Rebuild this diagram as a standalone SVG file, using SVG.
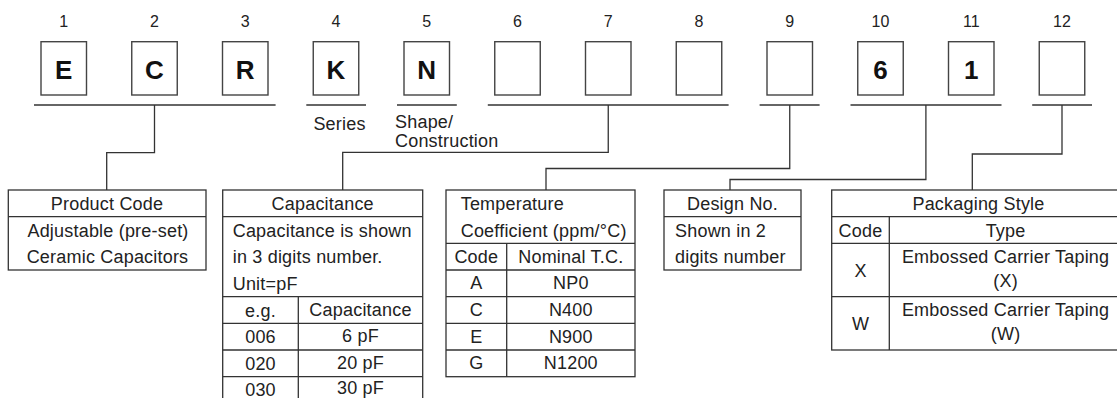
<svg xmlns="http://www.w3.org/2000/svg" width="1117" height="398" viewBox="0 0 1117 398">
<style>
text{font-family:"Liberation Sans",Arial,sans-serif;fill:#222}
.num{font-size:16px;text-anchor:middle}
.big{font-size:26px;font-weight:bold;text-anchor:middle;fill:#111}
.t{font-size:18px;letter-spacing:0.2px}
.m{text-anchor:middle}
.cb{fill:#fff;stroke:#444;stroke-width:1.4}
.bx{fill:#fff;stroke:#333;stroke-width:1.3}
.ln{stroke:#333;stroke-width:1.3;fill:none}
</style>
<rect width="1117" height="398" fill="#fff"/>

<g id="digits">
<g id="d1"><text class="num" x="63.75" y="27">1</text><rect class="cb" x="41" y="41.7" width="45.5" height="53.3"/><text class="big" x="63.75" y="79">E</text></g>
<g id="d2"><text class="num" x="154.5" y="27">2</text><rect class="cb" x="131.75" y="41.7" width="45.5" height="53.3"/><text class="big" x="154.5" y="79">C</text></g>
<g id="d3"><text class="num" x="245.25" y="27">3</text><rect class="cb" x="222.5" y="41.7" width="45.5" height="53.3"/><text class="big" x="245.25" y="79">R</text></g>
<g id="d4"><text class="num" x="336" y="27">4</text><rect class="cb" x="313.25" y="41.7" width="45.5" height="53.3"/><text class="big" x="336" y="79">K</text></g>
<g id="d5"><text class="num" x="426.75" y="27">5</text><rect class="cb" x="404" y="41.7" width="45.5" height="53.3"/><text class="big" x="426.75" y="79">N</text></g>
<g id="d6"><text class="num" x="517.5" y="27">6</text><rect class="cb" x="494.75" y="41.7" width="45.5" height="53.3"/></g>
<g id="d7"><text class="num" x="608.25" y="27">7</text><rect class="cb" x="585.5" y="41.7" width="45.5" height="53.3"/></g>
<g id="d8"><text class="num" x="699" y="27">8</text><rect class="cb" x="676.25" y="41.7" width="45.5" height="53.3"/></g>
<g id="d9"><text class="num" x="789.75" y="27">9</text><rect class="cb" x="767" y="41.7" width="45.5" height="53.3"/></g>
<g id="d10"><text class="num" x="880.5" y="27">10</text><rect class="cb" x="857.75" y="41.7" width="45.5" height="53.3"/><text class="big" x="880.5" y="79">6</text></g>
<g id="d11"><text class="num" x="971.25" y="27">11</text><rect class="cb" x="948.5" y="41.7" width="45.5" height="53.3"/><text class="big" x="971.25" y="79">1</text></g>
<g id="d12"><text class="num" x="1062" y="27">12</text><rect class="cb" x="1039.25" y="41.7" width="45.5" height="53.3"/></g>
</g>

<g id="brackets" class="ln">
<path d="M34 105H275.6"/>
<path d="M306.3 105H366"/>
<path d="M397 105H456.8"/>
<path d="M487.8 105H728.6"/>
<path d="M759.6 105H819.6"/>
<path d="M850.5 105H1001.5"/>
<path d="M1032.2 105H1092"/>
</g>

<g id="series-label"><text class="t" x="313.4" y="129.5">Series</text></g>
<g id="shape-label"><text class="t" x="395" y="127.5">Shape/</text><text class="t" x="395" y="147">Construction</text></g>

<g id="connectors" class="ln">
<path d="M154.5 105V152.7H106.7V190"/>
<path d="M608.25 105V152.3H342.7V190"/>
<path d="M789.75 105V168.5H546V190"/>
<path d="M925.9 105V179.5H730V190"/>
<path d="M1062 105V154H972.3V190"/>
</g>

<g id="product-code">
<rect class="bx" x="8.3" y="190" width="197.7" height="80"/>
<path class="ln" d="M8.3 216.7H206"/>
<text class="t m" x="107" y="210">Product Code</text>
<text class="t m" x="108" y="236.7">Adjustable (pre-set)</text>
<text class="t m" x="107.5" y="262.8">Ceramic Capacitors</text>
</g>

<g id="capacitance">
<rect class="bx" x="222.7" y="190" width="200" height="216"/>
<path class="ln" d="M222.7 216.7H422.7M222.7 296.7H422.7M222.7 323.3H422.7M222.7 350H422.7M222.7 376.7H422.7M298.3 296.7V406"/>
<text class="t m" x="322.7" y="210">Capacitance</text>
<text class="t" x="232.7" y="236.7">Capacitance is shown</text>
<text class="t" x="232.7" y="263.3">in 3 digits number.</text>
<text class="t" x="232.7" y="290">Unit=pF</text>
<text class="t m" x="260.5" y="316.7">e.g.</text>
<text class="t m" x="360.5" y="315.5">Capacitance</text>
<text class="t m" x="260.5" y="343.3">006</text>
<text class="t m" x="360.5" y="342">6 pF</text>
<text class="t m" x="260.5" y="370">020</text>
<text class="t m" x="360.5" y="368.5">20 pF</text>
<text class="t m" x="260.5" y="395.5">030</text>
<text class="t m" x="360.5" y="393.5">30 pF</text>
</g>

<g id="temperature">
<rect class="bx" x="446" y="190" width="189" height="186.7"/>
<path class="ln" d="M446 243.3H635M446 270H635M446 296.7H635M446 323.3H635M446 350H635M506.7 243.3V376.7"/>
<text class="t" x="460.7" y="210">Temperature</text>
<text class="t" x="460.7" y="236.7">Coefficient (ppm/°C)</text>
<text class="t m" x="476.3" y="262.5">Code</text>
<text class="t m" x="570.8" y="262.5">Nominal T.C.</text>
<text class="t m" x="476.3" y="289.2">A</text>
<text class="t m" x="570.8" y="289.2">NP0</text>
<text class="t m" x="476.3" y="315.9">C</text>
<text class="t m" x="570.8" y="315.9">N400</text>
<text class="t m" x="476.3" y="342.5">E</text>
<text class="t m" x="570.8" y="342.5">N900</text>
<text class="t m" x="476.3" y="369.2">G</text>
<text class="t m" x="570.8" y="369.2">N1200</text>
</g>

<g id="design-no">
<rect class="bx" x="664" y="190" width="137" height="80"/>
<path class="ln" d="M664 216.7H801"/>
<text class="t m" x="732.5" y="210">Design No.</text>
<text class="t" x="675" y="236.7">Shown in 2</text>
<text class="t" x="675" y="263.3">digits number</text>
</g>

<g id="packaging-style">
<rect class="bx" x="831.7" y="190" width="290.3" height="160"/>
<path class="ln" d="M831.7 216.7H1122M831.7 243.3H1122M831.7 296.7H1122M889.3 216.7V350"/>
<text class="t m" x="978.5" y="210">Packaging Style</text>
<text class="t m" x="860.5" y="236.7">Code</text>
<text class="t m" x="1005.6" y="236.7">Type</text>
<text class="t m" x="860.5" y="276.7">X</text>
<text class="t m" x="1005.6" y="262.5">Embossed Carrier Taping</text>
<text class="t m" x="1005.6" y="286.5">(X)</text>
<text class="t m" x="860.5" y="330">W</text>
<text class="t m" x="1005.6" y="316">Embossed Carrier Taping</text>
<text class="t m" x="1005.6" y="340">(W)</text>
</g>
</svg>
